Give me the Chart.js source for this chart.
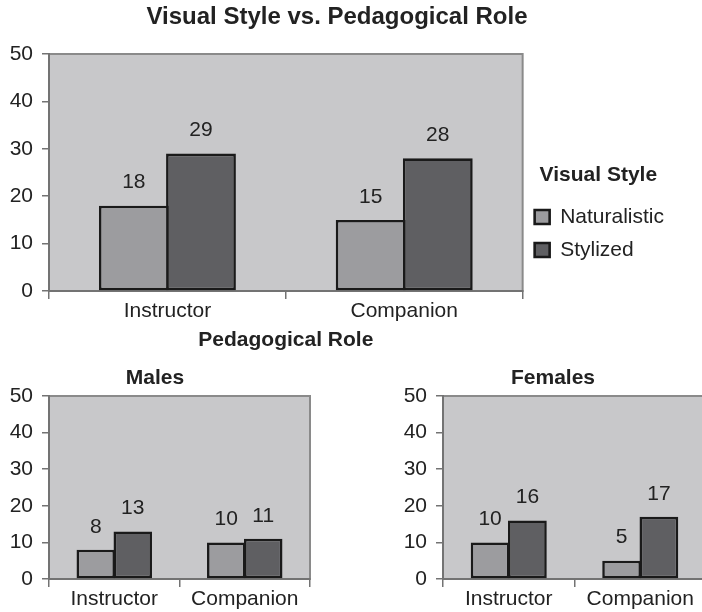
<!DOCTYPE html>
<html>
<head>
<meta charset="utf-8">
<script src="https://cdn.jsdelivr.net/npm/chart.js@4.4.1/dist/chart.umd.min.js"></script>
<style>
  html, body { margin: 0; padding: 0; background: #ffffff; width: 702px; height: 612px; overflow: hidden; position: relative; }
  canvas { position: absolute; }
</style>
</head>
<body>
<canvas id="main" width="702" height="353" style="left:0px;top:0px;"></canvas>
<canvas id="males" width="340" height="257" style="left:0px;top:355px;"></canvas>
<canvas id="females" width="350" height="257" style="left:400px;top:355px;"></canvas>
<script>
// ---- data ----
const categories = ['Instructor', 'Companion'];
const seriesNames = ['Naturalistic', 'Stylized'];
const overallNaturalistic = [18, 15];
const overallStylized = [29, 28];
const malesNaturalistic = [8, 10];
const malesStylized = [13, 11];
const femalesNaturalistic = [10, 5];
const femalesStylized = [16, 17];
const yMin = 0, yMax = 50, yStep = 10;

// ---- styles ----
const FONT = '"Liberation Sans", Arial, Helvetica, sans-serif';
const TEXT = '#222222';
const PLOT_BG = '#c8c8ca';
const NAT_FILL = '#9c9c9f';
const STY_FILL = '#5f5f62';
const BAR_BORDER = '#1a1a1a';
const AXIS = '#737373';

const plotBg = {
  id: 'plotBg',
  beforeDraw(chart) {
    const {ctx, chartArea: a} = chart;
    ctx.save();
    ctx.fillStyle = PLOT_BG;
    ctx.fillRect(a.left, a.top, a.right - a.left, a.bottom - a.top);
    ctx.strokeStyle = '#8a8a8a';
    ctx.lineWidth = 2;
    ctx.strokeRect(a.left, a.top, a.right - a.left, a.bottom - a.top);
    ctx.restore();
  }
};

const valueLabels = {
  id: 'valueLabels',
  afterDatasetsDraw(chart) {
    const {ctx} = chart;
    ctx.save();
    ctx.font = '21px ' + FONT;
    ctx.fillStyle = TEXT;
    ctx.textAlign = 'center';
    ctx.textBaseline = 'middle';
    chart.data.datasets.forEach((ds, di) => {
      const meta = chart.getDatasetMeta(di);
      meta.data.forEach((el, i) => {
        ctx.fillText(String(ds.data[i]), el.x, el.y - 23);
      });
    });
    ctx.restore();
  }
};

function makeDatasets(nat, sty) {
  return [
    { label: seriesNames[0], data: nat, backgroundColor: NAT_FILL, borderColor: BAR_BORDER,
      borderWidth: 2.6, borderSkipped: false, categoryPercentage: 0.567, barPercentage: 1.04 },
    { label: seriesNames[1], data: sty, backgroundColor: STY_FILL, borderColor: BAR_BORDER,
      borderWidth: 2.6, borderSkipped: false, categoryPercentage: 0.567, barPercentage: 1.04 }
  ];
}

function makeChart(id, cfg) {
  const ctx = document.getElementById(id);
  return new Chart(ctx, {
    type: 'bar',
    data: { labels: categories, datasets: makeDatasets(cfg.nat, cfg.sty) },
    plugins: [plotBg, valueLabels],
    options: {
      responsive: false,
      animation: false,
      devicePixelRatio: 1,
      layout: { padding: cfg.padding },
      plugins: {
        title: {
          display: true, text: cfg.title, color: TEXT,
          font: { family: FONT, size: cfg.titleSize, weight: 'bold' },
          padding: cfg.titlePadding
        },
        legend: cfg.legend || { display: false },
        tooltip: { enabled: false }
      },
      scales: {
        x: {
          grid: { offset: true, drawOnChartArea: false, drawTicks: true, tickLength: 8, color: AXIS, lineWidth: 1.5 },
          border: { display: true, color: AXIS, width: 2 },
          ticks: { color: TEXT, font: { family: FONT, size: 21 }, padding: 0 },
          title: cfg.xTitle ? { display: true, text: cfg.xTitle, color: TEXT,
                   font: { family: FONT, size: 21, weight: 'bold' }, padding: { top: 0, bottom: 0 } } : { display: false },
          afterFit(scale) { scale.height = cfg.xHeight; }
        },
        y: {
          min: yMin, max: yMax,
          ticks: { stepSize: yStep, color: TEXT, font: { family: FONT, size: 21 }, padding: 9 },
          grid: { drawOnChartArea: false, drawTicks: true, tickLength: 7, color: AXIS, lineWidth: 1.5 },
          border: { display: true, color: AXIS, width: 2 },
          afterFit(scale) { scale.width = cfg.yWidth; }
        }
      }
    }
  });
}

makeChart('main', {
  nat: overallNaturalistic, sty: overallStylized,
  title: 'Visual Style vs. Pedagogical Role', titleSize: 24,
  titlePadding: { top: 2.6, bottom: 22.6 },
  padding: { left: 0, right: 28, top: 0, bottom: 0 },
  xTitle: 'Pedagogical Role', xHeight: 62, yWidth: 49,
  legend: {
    display: true, position: 'right', align: 'start', fullSize: false,
    title: { display: true, text: 'Visual Style', color: TEXT,
             font: { family: FONT, size: 21, weight: 'bold' }, padding: { top: 110.5, bottom: 4.8 } },
    labels: { color: TEXT, font: { family: FONT, size: 21 }, boxWidth: 15, boxHeight: 14, padding: 12 }
  }
});

makeChart('males', {
  nat: malesNaturalistic, sty: malesStylized,
  title: 'Males', titleSize: 21,
  titlePadding: { top: 10.4, bottom: 5.4 },
  padding: { left: 0, right: 30, top: 0, bottom: 0 },
  xTitle: null, xHeight: 33, yWidth: 49
});

makeChart('females', {
  nat: femalesNaturalistic, sty: femalesStylized,
  title: 'Females', titleSize: 21,
  titlePadding: { top: 10.4, bottom: 5.4 },
  padding: { left: 0, right: 44, top: 0, bottom: 0 },
  xTitle: null, xHeight: 33, yWidth: 43
});
</script>
</body>
</html>
